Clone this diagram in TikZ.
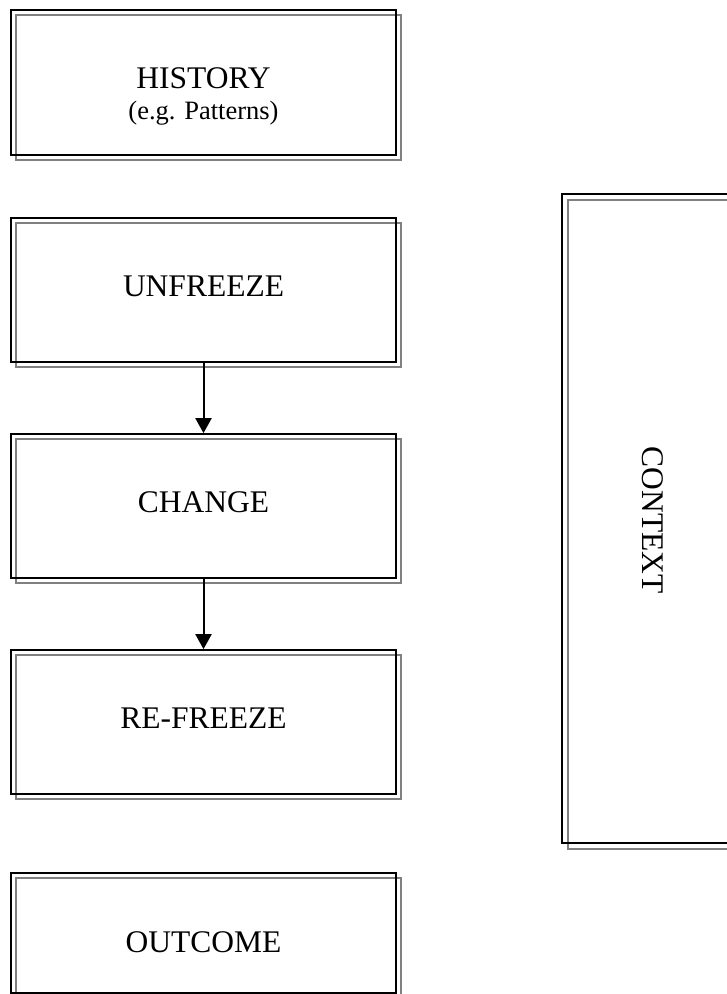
\documentclass[tikz,border=0pt]{standalone}
\usepackage{fontspec}
\setmainfont{Liberation Serif}
\usetikzlibrary{arrows.meta,shadows}
\definecolor{shadowgray}{RGB}{128,128,128}
\tikzset{
  stagebox/.style={draw=black, line width=1.7pt, inner sep=0pt, minimum width=385pt,
    general shadow={draw=shadowgray, line width=1.6pt, shadow xshift=5pt, shadow yshift=-5pt}},
  ctxbox/.style={draw=black, line width=1.7pt, inner sep=0pt,
    general shadow={draw=shadowgray, line width=1.6pt, shadow xshift=6pt, shadow yshift=-6pt}},
  lbl/.style={inner sep=0pt, font=\fontsize{31.5}{36}\selectfont},
  sublbl/.style={inner sep=0pt, font=\fontsize{26.5}{30}\selectfont},
  flow/.style={line width=2pt, -{Triangle[width=16pt,length=15pt]}}
}
\begin{document}
\begin{tikzpicture}[x=1pt,y=1pt]
\useasboundingbox (0,0) rectangle (727,-994);
\clip (0,0) rectangle (727,-994);
% boxes
\node[stagebox, minimum height=145pt] (hist) at (203.5,-82.5) {};
\node[stagebox, minimum height=144pt] (unf) at (203.5,-290) {};
\node[stagebox, minimum height=144pt] (chg) at (203.5,-506) {};
\node[stagebox, minimum height=144pt] (ref) at (203.5,-722) {};
\node[stagebox, minimum height=120pt] (out) at (203.5,-933) {};
\node[ctxbox, minimum width=181pt, minimum height=649pt] (ctx) at (652.5,-518.5) {};
% texts
\node[lbl, anchor=base] (histt) at ([yshift=-5.5pt]hist.center) {HISTORY};
\node[sublbl, anchor=base] (histsub) at ([yshift=-36.5pt]hist.center) {(e.g. Patterns)};
\node[lbl, anchor=base] (unft) at ([yshift=-6pt]unf.center) {UNFREEZE};
\node[lbl, anchor=base] (chgt) at ([yshift=-6pt]chg.center) {CHANGE};
\node[lbl, anchor=base] (reft) at ([yshift=-6pt]ref.center) {RE-FREEZE};
\node[lbl, anchor=base] (outt) at ([yshift=-19pt]out.center) {OUTCOME};
\node[lbl, rotate=-90] (ctxt) at (652.5,-520) {CONTEXT};
% connectors
\draw[flow] (unf.south) -- (chg.north);
\draw[flow] (chg.south) -- (ref.north);
\end{tikzpicture}
\end{document}
